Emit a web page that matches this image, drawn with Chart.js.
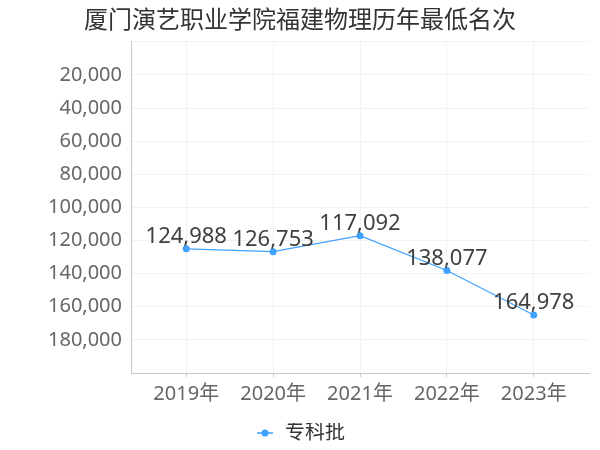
<!DOCTYPE html>
<html>
<head>
<meta charset="utf-8">
<script src="https://cdn.jsdelivr.net/npm/chart.js@4/dist/chart.umd.min.js"></script>
<style>
html,body{margin:0;padding:0;background:#fff;}
#wrap{width:600px;height:450px;}
</style>
</head>
<body>
<div id="wrap"><canvas id="c" width="600" height="450"></canvas></div>
<script>
const titleText = '厦门演艺职业学院福建物理历年最低名次';
const years = ['2019年', '2020年', '2021年', '2022年', '2023年'];
const seriesName = '专科批';
const ranks = [124988, 126753, 117092, 138077, 164978];
const yTicks = [0, 20000, 40000, 60000, 80000, 100000, 120000, 140000, 160000, 180000, 200000];

const lineColor = '#3fa0ff';
const FONT = '"Noto Sans", "Noto Sans CJK SC", sans-serif';

function fmt(v){ return v.toLocaleString('en-US'); }

// legend marker: short line with dot
const marker = document.createElement('canvas');
marker.width = 16; marker.height = 10;
(function(){
  const g = marker.getContext('2d');
  g.strokeStyle = lineColor; g.lineWidth = 1.5;
  g.beginPath(); g.moveTo(0,5); g.lineTo(16,5); g.stroke();
  g.fillStyle = lineColor;
  g.beginPath(); g.arc(8,5,3.5,0,Math.PI*2); g.fill();
})();

const valueLabels = {
  id: 'valueLabels',
  afterDatasetsDraw(chart){
    const ctx = chart.ctx;
    const meta = chart.getDatasetMeta(0);
    ctx.save();
    ctx.font = '22px ' + FONT;
    ctx.fillStyle = '#404040';
    ctx.textAlign = 'center';
    ctx.textBaseline = 'middle';
    meta.data.forEach((pt, i) => {
      ctx.fillText(fmt(ranks[i]), pt.x, pt.y - 12);
    });
    ctx.restore();
  }
};

new Chart(document.getElementById('c'), {
  type: 'line',
  data: {
    datasets: [{
      label: seriesName,
      data: ranks.map((v, i) => ({x: i, y: v})),
      borderColor: lineColor,
      backgroundColor: lineColor,
      borderWidth: 1.2,
      pointRadius: 3.5,
      pointHoverRadius: 3.5,
      pointBackgroundColor: lineColor,
      pointBorderWidth: 0,
      pointStyle: 'circle',
      tension: 0
    }]
  },
  options: {
    responsive: false,
    animation: false,
    events: [],
    layout: {padding: {left: 11, right: 11, top: 0, bottom: -3}},
    plugins: {
      title: {
        display: true,
        text: titleText,
        color: '#333333',
        font: {family: FONT, size: 24, weight: 'normal'},
        padding: {top: 7, bottom: 6}
      },
      legend: {
        display: true,
        position: 'bottom',
        labels: {
          usePointStyle: true,
          pointStyle: marker,
          color: '#333333',
          font: {family: FONT, size: 20},
          padding: 0
        }
      },
      tooltip: {enabled: false}
    },
    scales: {
      x: {
        type: 'linear',
        min: -0.636,
        max: 4.636,
        afterBuildTicks(scale){ scale.ticks = years.map((_, i) => ({value: i})); },
        afterFit(scale){ scale.height = 50; },
        ticks: {
          callback: (v) => years[v],
          color: '#666666',
          font: {family: FONT, size: 20},
          padding: 5,
          maxRotation: 0,
          autoSkip: false
        },
        grid: {color: '#f2f2f2', drawTicks: true, tickLength: 4, tickColor: '#cccccc'},
        border: {color: '#c8c8c8', width: 1}
      },
      y: {
        type: 'linear',
        reverse: true,
        min: 0,
        max: 200000,
        afterBuildTicks(scale){ scale.ticks = yTicks.map(v => ({value: v})); },
        afterFit(scale){ scale.width = 120; },
        ticks: {
          callback: (v) => (v === 0 || v === 200000) ? '' : fmt(v),
          color: '#666666',
          font: {family: FONT, size: 20},
          padding: 9
        },
        grid: {color: '#f2f2f2', drawTicks: false},
        border: {color: '#c8c8c8', width: 1}
      }
    }
  },
  plugins: [valueLabels]
});
</script>
</body>
</html>
